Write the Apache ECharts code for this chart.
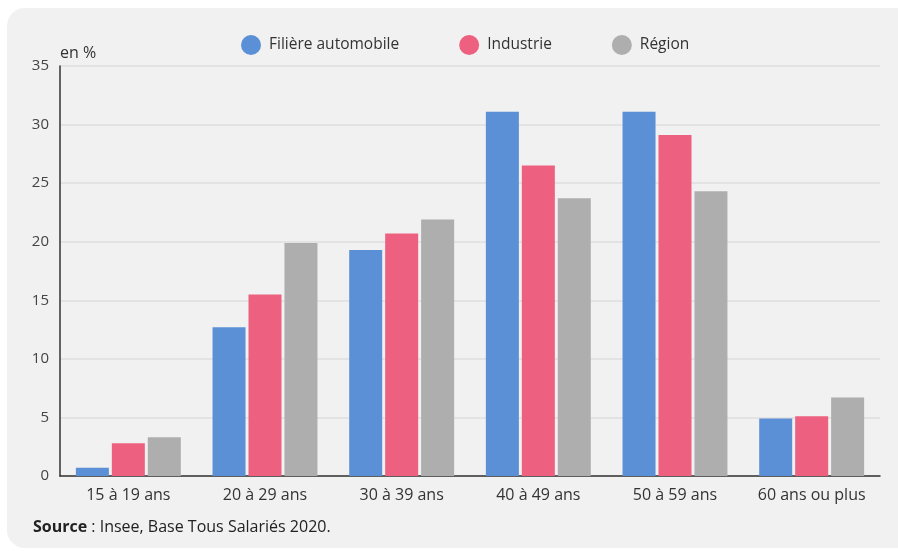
<!DOCTYPE html>
<html>
<head>
<meta charset="utf-8">
<script src="https://cdn.jsdelivr.net/npm/echarts@6/dist/echarts.min.js"></script>
<style>
  html, body { margin: 0; padding: 0; background: #ffffff; }
  #main { width: 898px; height: 551px; }
</style>
</head>
<body>
<div id="main"></div>
<script>
var categories = ['15 à 19 ans', '20 à 29 ans', '30 à 39 ans', '40 à 49 ans', '50 à 59 ans', '60 ans ou plus'];
var filiere = [0.7, 12.7, 19.3, 31.1, 31.1, 4.9];
var industrie = [2.8, 15.5, 20.7, 26.5, 29.1, 5.1];
var region = [3.3, 19.9, 21.9, 23.7, 24.3, 6.7];

var chart = echarts.init(document.getElementById('main'), null, { renderer: 'canvas' });
var font = "'Open Sans', 'Noto Sans', sans-serif";

chart.setOption({
  backgroundColor: 'transparent',
  textStyle: { fontFamily: font },
  graphic: [
    {
      type: 'rect',
      z: -10,
      shape: { x: 7, y: 8, width: 910, height: 540, r: 18 },
      style: { fill: '#f1f1f1' }
    },
    {
      type: 'text',
      left: 33,
      top: 519,
      style: {
        text: '{b|Source} : Insee, Base Tous Salariés 2020.',
        fill: '#222',
        font: "16px 'Open Sans', sans-serif",
        rich: {
          b: { fontWeight: 'bold', fontSize: 16, fontFamily: font, fill: '#222' }
        }
      }
    }
  ],
  legend: {
    top: 30,
    left: 236,
    icon: 'circle',
    itemWidth: 20,
    itemHeight: 20,
    itemGap: 60,
    textStyle: { fontSize: 15.5, color: '#333', fontFamily: font, padding: [0, 0, 0, 3] },
    data: ['Filière automobile', 'Industrie', 'Région']
  },
  grid: { left: 60, right: 18, top: 66, bottom: 75, containLabel: false },
  xAxis: {
    type: 'category',
    data: categories,
    axisLine: { lineStyle: { color: '#333', width: 1.5 } },
    axisTick: { show: false },
    axisLabel: { interval: 0, fontSize: 16, color: '#333', margin: 11, fontFamily: font }
  },
  yAxis: {
    type: 'value',
    min: 0,
    max: 35,
    interval: 5,
    name: 'en %',
    nameLocation: 'end',
    nameGap: 5,
    nameTextStyle: { fontSize: 16, color: '#333', align: 'left', padding: [0, 0, 0, 0], fontFamily: font },
    axisLine: { show: true, lineStyle: { color: '#333', width: 1.5 } },
    axisTick: { show: false },
    axisLabel: { fontSize: 15, color: '#444', margin: 11, fontFamily: font },
    splitLine: { lineStyle: { color: '#dedede', width: 1.5 } }
  },
  series: [
    {
      name: 'Filière automobile',
      type: 'bar',
      data: filiere,
      barWidth: 33,
      barGap: '9%',
      itemStyle: { color: '#5b8fd6' }
    },
    {
      name: 'Industrie',
      type: 'bar',
      data: industrie,
      barWidth: 33,
      barGap: '9%',
      itemStyle: { color: '#ed6080' }
    },
    {
      name: 'Région',
      type: 'bar',
      data: region,
      barWidth: 33,
      barGap: '9%',
      itemStyle: { color: '#afaeae' }
    }
  ]
});
</script>
</body>
</html>
